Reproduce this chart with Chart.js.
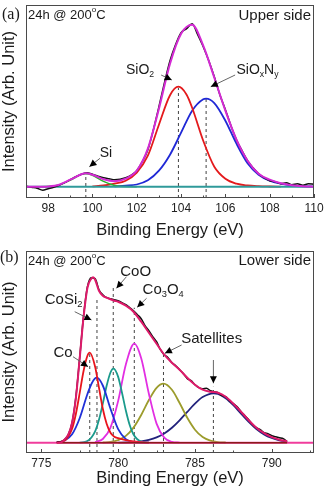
<!DOCTYPE html>
<html>
<head>
<meta charset="utf-8">
<script src="https://cdn.jsdelivr.net/npm/chart.js@4.4.0/dist/chart.umd.min.js"></script>
<style>
  body { margin: 0; background: #fff; }
  #wrap { position: relative; width: 324px; height: 488px; }
  .panel { position: absolute; left: 0; width: 324px; height: 244px; }
</style>
</head>
<body>
<div id="wrap">
  <div class="panel" style="top:0"><canvas id="chartA" width="324" height="244"></canvas></div>
  <div class="panel" style="top:244px"><canvas id="chartB" width="324" height="244"></canvas></div>
</div>
<script>
const FONT = '"Liberation Sans", Arial, sans-serif';

// ---- Panel (a): upper side, Si 2p ----
const dataAX = [97,97.25,97.5,97.75,98,98.25,98.5,98.75,99,99.25,99.5,99.75,100,100.25,100.5,100.75,101,101.25,101.5,101.75,102,102.25,102.5,102.75,103,103.25,103.5,103.75,104,104.25,104.5,104.75,105,105.25,105.5,105.75,106,106.25,106.5,106.75,107,107.25,107.5,107.75,108,108.25,108.5,108.75,109,109.25,109.5,109.75,110];
const dataAY = [0.5,-0.5,-1.5,-3.5,-2,-0.5,1.5,4,7,10,12.5,14,12.5,10.5,9,8,7,7.5,9,11.5,16,25,37,57,80,104,126,142,154,158,163,152,140,126,110,92,77,61,47,36,26,19,13,9,6,5,3,4,2,3,1.5,3,2.5];
const envAX = [97,97.5,98,98.5,99,99.5,99.7,100,100.5,101,101.5,102,102.5,103,103.5,104,104.5,105,105.5,106,106.5,107,107.5,108,108.5,109,109.5,110];
const envAY = [0,0,0.3,2,7,12.5,13.5,12,7.5,5.5,8,16,38,78,123,153,162,141,109,76,47,26,13,7,3.5,1.5,0.5,0];
const siX = [97.5,98,98.5,99,99.5,99.7,100,100.5,101,101.5,102];
const siY = [0,0.2,1.8,6.6,12.3,13,11.5,5.3,1.2,0.1,0];
const sio2X = [100,100.5,101,101.5,102,102.5,103,103.5,103.88,104.25,104.5,105,105.5,106,106.5,107,107.5,108,108.5];
const sio2Y = [0.3,1.2,3,6,14,31,62,91.5,100,92,79,46,20,8,3,1.2,0.5,0.2,0];
const sionX = [101,101.5,102,102.5,103,103.5,104,104.5,105,105.13,105.5,106,106.5,107,107.5,108,108.5,109,109.5,110];
const sionY = [0.3,1,2.2,6.4,16,32,54,76,87.4,88,83.6,66,43,23.5,12,6,3,1.2,0.4,0.1];
const baseAX = [97,110];
const baseAY = [0,0];
const markAX = [99.7,103.88,105.13];
const markATop = [13.5,99,88];

// ---- Panel (b): lower side, Co 2p3/2 ----
const dataBX = [776,776.25,776.5,776.75,777,777.25,777.5,777.75,778,778.25,778.5,778.75,779,779.25,779.5,779.75,780,780.25,780.5,780.75,781,781.25,781.5,781.75,782,782.25,782.5,782.75,783,783.25,783.5,783.75,784,784.25,784.5,784.75,785,785.25,785.5,785.75,786,786.25,786.5,786.75,787,787.25,787.5,787.75,788,788.25,788.5,788.75,789,789.25,789.5,789.75,790,790.25,790.5,790.75,791];
const dataBY = [0.5,1,3,8,20,46,86,127,156,165,164,153,148,145,144,143,142,140,138,135,132,128,124,117,112,106,101,93,88,85,80,77,73,69,64,62,58,55,54,54.5,52,51,50,47,46,42,39,36,31,27,23,18,15,13,10,9,7,6,5,4,1];
const envBX = [776,776.3,776.5,776.75,777,777.25,777.5,777.75,778,778.25,778.37,778.5,778.75,779,779.25,779.5,779.75,780,780.5,781,781.5,782,782.5,783,783.5,784,784.5,785,785.5,786,786.5,787,787.5,788,788.5,789,789.5,790,790.5,791];
const envBY = [0,0.5,3,8,20,45,85,126,155,164,165.5,163,152,147,145,143.5,142,141,137,131,121,110,99,88,80,73,65,58,53,51,50,46,39,31,22.5,15,9.5,5.5,3,1.5];
const coX = [776,776.5,777,777.25,777.5,777.75,778,778.15,778.5,778.75,779,779.25,779.5,779.75,780,780.5,781,781.5,782];
const coY = [0.3,2,14,29,50,72,87,90,76,55,34,19,10,6,4.5,2.5,1.2,0.5,0];
const cosi2X = [776,776.5,777,777.5,778,778.3,778.6,779,779.5,780,780.5,781,781.5,782];
const cosi2Y = [0.3,1.9,8.4,24.7,48.7,60,65,57.2,34,13.5,3.6,0.65,0.1,0];
const cooX = [777.5,778,778.5,778.75,779,779.25,779.5,779.7,780,780.25,780.5,780.75,781,781.5,782];
const cooY = [0.1,1.7,11.4,22.9,39.1,56.9,70.2,74,65.8,49.9,32.2,17.7,8.2,1.1,0.1];
const co3o4X = [778.5,779,779.5,780,780.5,781.05,781.5,782,782.5,783,783.5,784];
const co3o4Y = [0.6,3.7,15.1,41.8,78.2,99,84.5,48.9,19.1,5.1,0.9,0.1];
const sat1X = [779,779.5,780,780.5,781,781.5,782,782.5,782.95,783.5,784,784.5,785,785.5,786,786.5,787];
const sat1Y = [0.2,0.8,2.6,6.8,15.1,27.7,42.7,54.9,59,52.9,39.7,24.9,13,5.7,2.1,0.6,0.2];
const sat2X = [780,780.5,781,781.5,782,782.5,783,783.5,784,784.5,785,785.5,786.2,786.5,787,787.5,788,788.5,789,789.5,790,790.5,791];
const sat2Y = [0.1,0.2,0.6,1.3,2.8,5.3,9.3,15,22.4,30.8,39,45.6,49.4,48.7,44.5,37.5,29.1,20.8,13.7,8.3,4.7,2.4,1.1];
const baseBX = [774,792.75];
const baseBY = [0,0];
const bgBX = [776,791];
const bgBY = [0,0];
const markBX = [778.15,778.62,779.68,781.05,782.95,786.2];
const markBTop = [90,144,156,135,89,56];

// labels with leader arrows (x in eV, y in intensity)
const notesA = [
  { text: 'Si', tx: 100.61, ty: 33.7, from: [100.34, 28.4], to: [99.86, 20] },
  { text: 'SiO_2', tx: 102.15, ty: 116.7, from: [103.1, 111.7], to: [103.58, 106.7] },
  { text: 'SiO_xN_y', tx: 107.45, ty: 116.7, from: [106.44, 111.7], to: [105.34, 100] }
];
const notesB = [
  { text: 'Co', tx: 776.41, ty: 89.4, from: [777.06, 86], to: [778.04, 76] },
  { text: 'CoSi_2', tx: 776.45, ty: 142.7, from: [777.17, 131], to: [778.26, 122.7] },
  { text: 'CoO', tx: 781.14, ty: 171, from: [780.54, 166], to: [779.89, 154.4] },
  { text: 'Co_3O_4', tx: 782.93, ty: 152.7, from: [781.85, 144.4], to: [781.24, 135.4] },
  { text: 'Satellites', tx: 786.09, ty: 103.7, from: [784.13, 97.7], to: [783.04, 89.4] },
  { text: '', from: [786.2, 82.7], to: [786.2, 59.4] }
];

const pts = (xs, ys) => xs.map((x, i) => ({ x, y: ys[i] }));

function curve(label, xs, ys, color, width, order) {
  return {
    label, data: pts(xs, ys), borderColor: color, borderWidth: width,
    pointRadius: 0, fill: false, cubicInterpolationMode: 'monotone', order
  };
}

function markers(xs, tops, yMin) {
  return xs.map((x, i) => ({
    label: 'mark', data: [{ x, y: yMin }, { x, y: tops[i] }],
    borderColor: '#444', borderWidth: 1, borderDash: [3, 3], pointRadius: 0, order: 9
  }));
}

// text with _x subscripts and ^x superscripts
function drawRich(ctx, str, x0, cy, size, align) {
  const parts = [];
  for (let i = 0; i < str.length; i++) {
    const c = str[i];
    if ((c === '_' || c === '^') && i + 1 < str.length) { parts.push({ t: str[i + 1], k: c }); i++; }
    else parts.push({ t: c, k: '' });
  }
  const small = size * 0.62;
  let w = 0;
  parts.forEach(p => {
    ctx.font = `${p.k ? small : size}px ${FONT}`;
    p.w = ctx.measureText(p.t).width;
    w += p.w;
  });
  let x = align === 'center' ? x0 - w / 2 : align === 'right' ? x0 - w : x0;
  ctx.fillStyle = '#1a1a1a';
  ctx.textAlign = 'left';
  ctx.textBaseline = 'middle';
  parts.forEach(p => {
    ctx.font = `${p.k ? small : size}px ${FONT}`;
    const dy = p.k === '_' ? size * 0.32 : p.k === '^' ? -size * 0.38 : 0;
    ctx.fillText(p.t, x, cy + dy);
    x += p.w;
  });
}

function drawArrow(ctx, x1, y1, x2, y2) {
  ctx.strokeStyle = '#666';
  ctx.lineWidth = 1;
  ctx.beginPath(); ctx.moveTo(x1, y1); ctx.lineTo(x2, y2); ctx.stroke();
  const a = Math.atan2(y2 - y1, x2 - x1), L = 7, H = 3.5;
  ctx.fillStyle = '#000';
  ctx.beginPath();
  ctx.moveTo(x2, y2);
  ctx.lineTo(x2 - L * Math.cos(a) + H * Math.sin(a), y2 - L * Math.sin(a) - H * Math.cos(a));
  ctx.lineTo(x2 - L * Math.cos(a) - H * Math.sin(a), y2 - L * Math.sin(a) + H * Math.cos(a));
  ctx.closePath(); ctx.fill();
}

function panelPlugin(cfg) {
  return {
    id: 'panel',
    afterDatasetsDraw(chart) {
      const { ctx, scales: { x, y } } = chart;
      ctx.save();
      cfg.notes.forEach(n => {
        drawArrow(ctx, x.getPixelForValue(n.from[0]), y.getPixelForValue(n.from[1]),
          x.getPixelForValue(n.to[0]), y.getPixelForValue(n.to[1]));
        if (n.text) drawRich(ctx, n.text, x.getPixelForValue(n.tx), y.getPixelForValue(n.ty), cfg.noteSize, 'center');
      });
      ctx.restore();
    },
    afterDraw(chart) {
      const { ctx, chartArea: a, scales: { x } } = chart;
      ctx.save();
      // frame
      ctx.strokeStyle = '#4a4a4a';
      ctx.lineWidth = 1;
      ctx.strokeRect(a.left + 0.5, a.top + 0.5, a.right - a.left - 1, a.bottom - a.top - 1);
      // inward ticks
      const majors = x.ticks.map(t => t.value);
      const step = majors[1] - majors[0];
      ctx.beginPath();
      majors.forEach(v => {
        const px = Math.round(x.getPixelForValue(v)) + 0.5;
        ctx.moveTo(px, a.bottom); ctx.lineTo(px, a.bottom - 4);
      });
      for (let v = majors[0] - step / 2; v <= x.max; v += step) {
        if (v < x.min) continue;
        const px = Math.round(x.getPixelForValue(v)) + 0.5;
        ctx.moveTo(px, a.bottom); ctx.lineTo(px, a.bottom - 2.5);
      }
      ctx.stroke();
      // corner texts
      drawRich(ctx, cfg.side, a.right - 3, a.top + cfg.sideDy, 15, 'right');
      drawRich(ctx, '24h @ 200^oC', a.left + 2, a.top + 10, 13, 'left');
      // panel letter
      ctx.font = `16px "Liberation Serif", "Times New Roman", serif`;
      ctx.fillStyle = '#1a1a1a';
      ctx.textAlign = 'left';
      ctx.textBaseline = 'middle';
      ctx.fillText(cfg.letter, cfg.letterX, cfg.letterY);
      ctx.restore();
    }
  };
}

function makeScales(o) {
  return {
    x: {
      type: 'linear', min: o.xMin, max: o.xMax,
      ticks: { stepSize: o.step, includeBounds: false, color: '#222', font: { family: FONT, size: 12 }, padding: 3, maxRotation: 0 },
      grid: { display: false, drawOnChartArea: false, drawTicks: false },
      border: { display: false },
      title: { display: true, text: 'Binding Energy (eV)', color: '#1a1a1a', font: { family: FONT, size: 16.5 }, padding: { top: 0, bottom: o.titlePad } },
      afterFit: s => { s.height = o.xHeight; s.paddingLeft = 0; s.paddingRight = 0; }
    },
    y: {
      type: 'linear', min: o.yMin, max: o.yMax,
      ticks: { display: false },
      grid: { display: false, drawOnChartArea: false, drawTicks: false },
      border: { display: false },
      title: { display: true, text: 'Intensity (Arb. Unit)', color: '#1a1a1a', font: { family: FONT, size: 16.5 }, padding: 0 },
      afterFit: s => { s.width = 26; s.paddingTop = 0; s.paddingBottom = 0; }
    }
  };
}

const common = {
  responsive: false,
  animation: false,
  devicePixelRatio: 1,
  events: [],
  plugins: { legend: { display: false }, tooltip: { enabled: false } }
};

// Render panel (a)
new Chart(document.getElementById('chartA'), {
  type: 'line',
  data: {
    datasets: [
      curve('Fit', envAX, envAY, '#d42ad4', 2, 0),
      curve('Data', dataAX, dataAY, '#111', 1.5, 1),
      curve('Baseline', baseAX, baseAY, '#2f9a9a', 2, 2),
      curve('Si', siX, siY, '#2db02d', 1.5, 3),
      curve('SiO2', sio2X, sio2Y, '#e41a1c', 1.8, 4),
      curve('SiOxNy', sionX, sionY, '#1f28d6', 1.8, 5),
      ...markers(markAX, markATop, -11.3)
    ]
  },
  options: {
    ...common,
    layout: { padding: { left: 0, right: 10, top: 5, bottom: 0 } },
    scales: makeScales({ xMin: 97, xMax: 110, step: 2, yMin: -11.3, yMax: 181.7, xHeight: 46, titlePad: 4 })
  },
  plugins: [panelPlugin({ notes: notesA, noteSize: 14, side: 'Upper side', sideDy: 11, letter: '(a)', letterX: 2, letterY: 15 })]
});

// Render panel (b)
new Chart(document.getElementById('chartB'), {
  type: 'line',
  data: {
    datasets: [
      curve('Fit', envBX, envBY, '#de1a6a', 2, 0),
      curve('Data', dataBX, dataBY, '#111', 1.5, 1),
      curve('Background', bgBX, bgBY, '#8b1c1c', 1.5, 2),
      curve('Baseline', baseBX, baseBY, '#f03c9c', 2, 3),
      curve('Co', coX, coY, '#e8141c', 1.8, 4),
      curve('CoSi2', cosi2X, cosi2Y, '#2030d8', 1.8, 4),
      curve('CoO', cooX, cooY, '#1b9a8c', 1.8, 4),
      curve('Co3O4', co3o4X, co3o4Y, '#e22ee2', 1.8, 4),
      curve('Satellite 1', sat1X, sat1Y, '#9c9c2c', 1.8, 4),
      curve('Satellite 2', sat2X, sat2Y, '#22227c', 1.8, 4),
      ...markers(markBX, markBTop, -10.3)
    ]
  },
  options: {
    ...common,
    layout: { padding: { left: 0, right: 10, top: 7, bottom: 0 } },
    scales: makeScales({ xMin: 774, xMax: 792.75, step: 5, yMin: -10.3, yMax: 191.7, xHeight: 35, titlePad: 0 })
  },
  plugins: [panelPlugin({ notes: notesB, noteSize: 15, side: 'Lower side', sideDy: 9.5, letter: '(b)', letterX: 0, letterY: 14 })]
});
</script>
</body>
</html>
